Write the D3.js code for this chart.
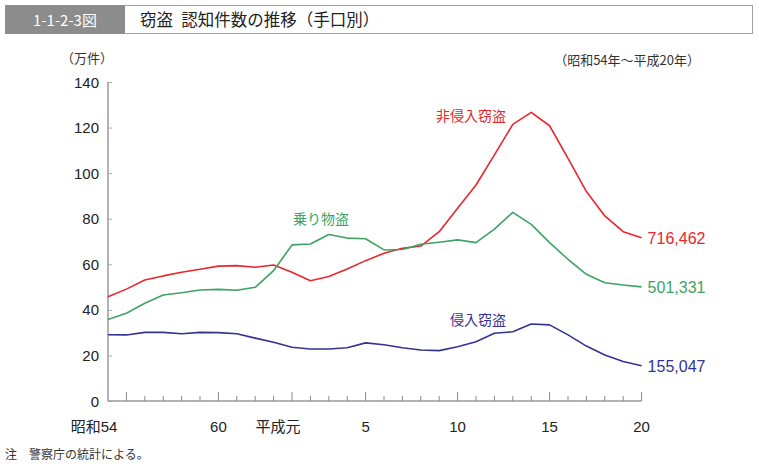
<!DOCTYPE html>
<html><head><meta charset="utf-8">
<script src="https://cdn.jsdelivr.net/npm/d3@7/dist/d3.min.js"></script>
<style>
body{margin:0;background:#fff;}
svg{display:block;}
text{font-family:"Liberation Sans","Noto Sans CJK JP",sans-serif;}
.jp{font-family:"Noto Sans CJK JP",sans-serif;}
</style></head>
<body><svg id="c" width="759" height="466"></svg>
<script>
// years 昭和54 (1979) .. 平成20 (2008)
const years = d3.range(1979, 2009);
const tickLabels = [
  {i:0, t:"昭和54", dx:-14},
  {i:6, t:"60", dx:0},
  {i:10, t:"平成元", dx:-14},
  {i:14, t:"5", dx:0},
  {i:19, t:"10", dx:0},
  {i:24, t:"15", dx:0},
  {i:29, t:"20", dx:0}
];
const majorTicks = [1, 6, 10, 14, 19, 24, 29];
const yTicks = [0, 20, 40, 60, 80, 100, 120, 140];

// 非侵入窃盗 (万件)
const hishinnyu = [45.8,49.1,53.1,54.9,56.5,57.8,59.2,59.4,58.7,59.7,56.5,52.8,54.6,57.9,61.6,64.8,67.0,68.0,74.3,84.6,94.8,108.0,121.4,126.7,120.8,106.5,91.9,81.2,74.3,71.6];
// 乗り物盗
const norimono = [35.8,38.5,42.9,46.5,47.5,48.7,49.0,48.6,49.9,57.2,68.5,68.9,73.1,71.5,71.2,66.3,66.5,68.8,69.7,70.7,69.5,75.4,82.8,77.5,69.5,62.2,55.6,51.9,50.9,50.1];
// 侵入窃盗
const shinnyu = [29.1,29.0,30.1,30.1,29.5,30.1,30.0,29.5,27.6,25.8,23.6,22.8,22.8,23.4,25.5,24.7,23.4,22.4,22.1,23.8,26.0,29.7,30.4,33.8,33.4,29.0,24.1,20.2,17.3,15.5];

const series = [
  {name:"非侵入窃盗", values:hishinnyu, color:"#e8262c", end:"716,462", lx:436, ly:116},
  {name:"乗り物盗", values:norimono, color:"#3ea263", end:"501,331", lx:293, ly:219},
  {name:"侵入窃盗", values:shinnyu, color:"#333394", end:"155,047", lx:450, ly:320}
];

const svg = d3.select("#c");
const x = d3.scaleLinear().domain([0, years.length-1]).range([108, 641.6]);
const y = d3.scaleLinear().domain([0, 140]).range([401, 82]);

// title bar
svg.append("rect").attr("x",5.5).attr("y",5.5).attr("width",747).attr("height",28)
  .attr("fill","#fff").attr("stroke","#a0a0a0").attr("stroke-width",1);
svg.append("rect").attr("x",5).attr("y",5).attr("width",120).attr("height",29).attr("fill","#8c8c8c");
svg.append("text").attr("x",65).attr("y",25.5).attr("text-anchor","middle")
  .attr("fill","#fff").attr("font-size",15).attr("class","jp").text("1-1-2-3図");
svg.append("text").attr("x",140).attr("y",26).attr("fill","#222").attr("font-size",16.5)
  .attr("class","jp").text("窃盗\u2002認知件数の推移（手口別）");

svg.append("text").attr("x",61).attr("y",63).attr("font-size",13).attr("fill","#333")
  .attr("class","jp").text("（万件）");
svg.append("text").attr("x",700).attr("y",65).attr("text-anchor","end").attr("font-size",13)
  .attr("fill","#333").attr("class","jp").text("（昭和54年～平成20年）");

// y axis
const yAxis = d3.axisRight(y).tickValues(yTicks).tickSize(4).tickFormat("");
const gy = svg.append("g").attr("transform","translate(108,0)").call(yAxis);
gy.select(".domain").remove();
gy.selectAll("line").attr("stroke","#aaa");
svg.append("line").attr("x1",108).attr("x2",108).attr("y1",y(140)).attr("y2",y(0))
  .attr("stroke","#9a9a9a").attr("stroke-width",1.5);
svg.selectAll(".ylab").data(yTicks).enter().append("text")
  .attr("x",99).attr("y",d=>y(d)+5.5).attr("text-anchor","end")
  .attr("font-size",15).attr("fill","#222").text(d=>d);

// x axis
svg.append("line").attr("x1",108).attr("x2",x(29)).attr("y1",401).attr("y2",401)
  .attr("stroke","#9a9a9a").attr("stroke-width",1.5);
svg.selectAll(".xt").data(d3.range(1, years.length)).enter().append("line")
  .attr("x1",d=>x(d)).attr("x2",d=>x(d)).attr("y1",401)
  .attr("y2",d=>majorTicks.includes(d)?392:396)
  .attr("stroke","#888").attr("stroke-width",1);
svg.selectAll(".xlab").data(tickLabels).enter().append("text")
  .attr("x",d=>x(d.i)+d.dx).attr("y",432).attr("text-anchor","middle")
  .attr("font-size",15).attr("fill","#222").text(d=>d.t);

// lines
const line = d3.line().x((d,i)=>x(i)).y(d=>y(d));
series.forEach(s=>{
  svg.append("path").datum(s.values).attr("d",line).attr("fill","none")
    .attr("stroke",s.color).attr("stroke-width",1.6).attr("stroke-linejoin","round");
  svg.append("text").attr("x",s.lx).attr("y",s.ly+5).attr("font-size",14)
    .attr("class","jp").attr("fill",s.color).text(s.name);
  svg.append("text").attr("x",x(29)+6).attr("y",y(s.values[29])+6)
    .attr("font-size",16).attr("fill",s.color).text(s.end);
});

svg.append("text").attr("x",5).attr("y",459).attr("font-size",12).attr("fill","#333")
  .attr("class","jp").text("注　警察庁の統計による。");
</script></body></html>
